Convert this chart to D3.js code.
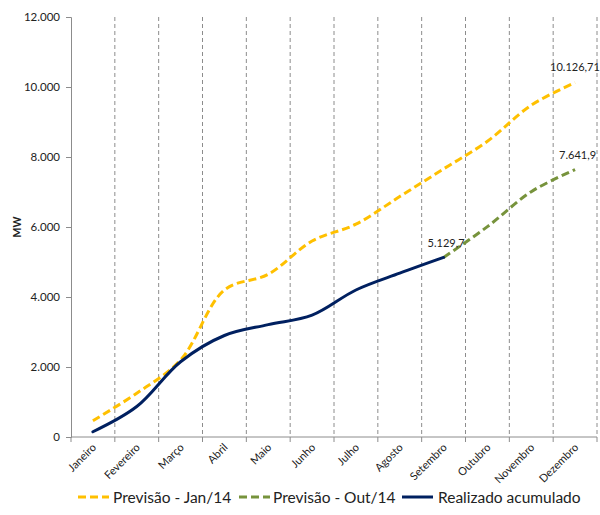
<!DOCTYPE html>
<html>
<head>
<meta charset="utf-8">
<script src="https://cdn.jsdelivr.net/npm/d3@7"></script>
<style>
  html, body { margin: 0; padding: 0; background: #fff; }
  svg { display: block; font-family: Lato, "Open Sans", sans-serif; }
</style>
</head>
<body>
<svg id="chart" width="600" height="515"></svg>
<script>
// Months of the year (categories)
const months = ["Janeiro", "Fevereiro", "Março", "Abril", "Maio", "Junho",
                "Julho", "Agosto", "Setembro", "Outubro", "Novembro", "Dezembro"];

// Accumulated capacity, MW
const previsaoJan = [466, 1250, 2200, 4200, 4650, 5600, 6080, 6870, 7660, 8450, 9480, 10126.71];
const previsaoOutMonths = ["Setembro", "Outubro", "Novembro", "Dezembro"];
const previsaoOut = [5129.7, 6010, 7010, 7641.9];
const realizadoMonths = ["Janeiro", "Fevereiro", "Março", "Abril", "Maio", "Junho", "Julho", "Agosto", "Setembro"];
const realizado = [150, 870, 2150, 2900, 3210, 3480, 4200, 4680, 5129.7];

const yTicks = [0, 2000, 4000, 6000, 8000, 10000, 12000];

const svg = d3.select("#chart");
const plotLeft = 71, plotRight = 597, plotTop = 17, plotBottom = 437;

const x = d3.scaleBand().domain(months).range([plotLeft, plotRight]).padding(0);
const y = d3.scaleLinear().domain([0, 12000]).range([plotBottom, plotTop]);
const cx = m => x(m) + x.bandwidth() / 2;

const fmtInt = v => d3.format(",")(v).replace(/,/g, ".");
const fmtDec = v => {
  const s = String(v).split(".");
  return fmtInt(+s[0]) + (s[1] ? "," + s[1] : "");
};

// Vertical dashed gridlines at category boundaries
svg.append("g").selectAll("line")
  .data(months)
  .join("line")
  .attr("x1", m => x(m) + x.bandwidth()).attr("x2", m => x(m) + x.bandwidth())
  .attr("y1", plotTop).attr("y2", plotBottom)
  .attr("stroke", "#8c8c8c").attr("stroke-width", 1)
  .attr("stroke-dasharray", "4,3");

// Y axis
const yAxis = svg.append("g")
  .attr("transform", `translate(${plotLeft},0)`)
  .call(d3.axisLeft(y).tickValues(yTicks).tickSize(5).tickPadding(6).tickFormat(fmtInt));
yAxis.select(".domain").attr("stroke", "#8c8c8c");
yAxis.selectAll(".tick line").attr("stroke", "#8c8c8c");
yAxis.selectAll("text").attr("font-size", 11.5).attr("fill", "#222")
  .attr("font-family", "Lato, sans-serif");

// X axis with boundary ticks
const xAxisG = svg.append("g").attr("transform", `translate(0,${plotBottom})`);
xAxisG.append("line").attr("x1", plotLeft).attr("x2", plotRight).attr("y1", 0).attr("y2", 0)
  .attr("stroke", "#8c8c8c");
xAxisG.selectAll("line.tk")
  .data([plotLeft].concat(months.map(m => x(m) + x.bandwidth())))
  .join("line").attr("class", "tk")
  .attr("x1", d => d).attr("x2", d => d).attr("y1", 0).attr("y2", 5)
  .attr("stroke", "#8c8c8c");
xAxisG.selectAll("text")
  .data(months)
  .join("text")
  .attr("transform", m => `translate(${cx(m) + 4},${11}) rotate(-45)`)
  .attr("text-anchor", "end")
  .attr("font-size", 11)
  .attr("fill", "#222")
  .text(m => m);

// Y axis title
svg.append("text")
  .attr("transform", `translate(21,${(plotTop + plotBottom) / 2}) rotate(-90)`)
  .attr("text-anchor", "middle")
  .attr("font-size", 10.5).attr("font-weight", "bold").attr("fill", "#222")
  .text("MW");

const line = d3.line().curve(d3.curveCatmullRom.alpha(0.5))
  .x(d => cx(d[0])).y(d => y(d[1]));

// Forecast from January
svg.append("path")
  .datum(months.map((m, i) => [m, previsaoJan[i]]))
  .attr("d", line).attr("fill", "none")
  .attr("stroke", "#FFC000").attr("stroke-width", 3)
  .attr("stroke-dasharray", "8,4");

// Forecast from October
svg.append("path")
  .datum(previsaoOutMonths.map((m, i) => [m, previsaoOut[i]]))
  .attr("d", line).attr("fill", "none")
  .attr("stroke", "#77933C").attr("stroke-width", 3)
  .attr("stroke-dasharray", "8,4");

// Realized accumulated
svg.append("path")
  .datum(realizadoMonths.map((m, i) => [m, realizado[i]]))
  .attr("d", line).attr("fill", "none")
  .attr("stroke", "#002060").attr("stroke-width", 3)
  .attr("stroke-linecap", "round");

// Value labels
const labels = [
  { m: "Dezembro", v: previsaoJan[previsaoJan.length - 1], dx: -25, dy: -12 },
  { m: "Dezembro", v: previsaoOut[previsaoOut.length - 1], dx: -16, dy: -11 },
  { m: "Setembro", v: realizado[realizado.length - 1], dx: -16, dy: -10 }
];
svg.append("g").selectAll("text")
  .data(labels)
  .join("text")
  .attr("x", d => cx(d.m) + d.dx)
  .attr("y", d => y(d.v) + d.dy)
  .attr("font-size", 11).attr("fill", "#222")
  .text(d => fmtDec(d.v));

// Legend
const legend = [
  { name: "Previsão - Jan/14", color: "#FFC000", dash: "8,4", x: 78, tx: 113 },
  { name: "Previsão - Out/14", color: "#77933C", dash: "8,4", x: 239, tx: 273 },
  { name: "Realizado acumulado", color: "#002060", dash: null, x: 402, tx: 438 }
];
const lg = svg.append("g").attr("transform", "translate(0,497)");
const items = lg.selectAll("g").data(legend).join("g");
items.append("line").attr("x1", d => d.x).attr("x2", d => d.x + 31).attr("y1", 0).attr("y2", 0)
  .attr("stroke", d => d.color).attr("stroke-width", 3)
  .attr("stroke-dasharray", d => d.dash);
items.append("text").attr("x", d => d.tx).attr("y", 5.5)
  .attr("font-size", 15.5).attr("fill", "#222")
  .text(d => d.name);
</script>
</body>
</html>
